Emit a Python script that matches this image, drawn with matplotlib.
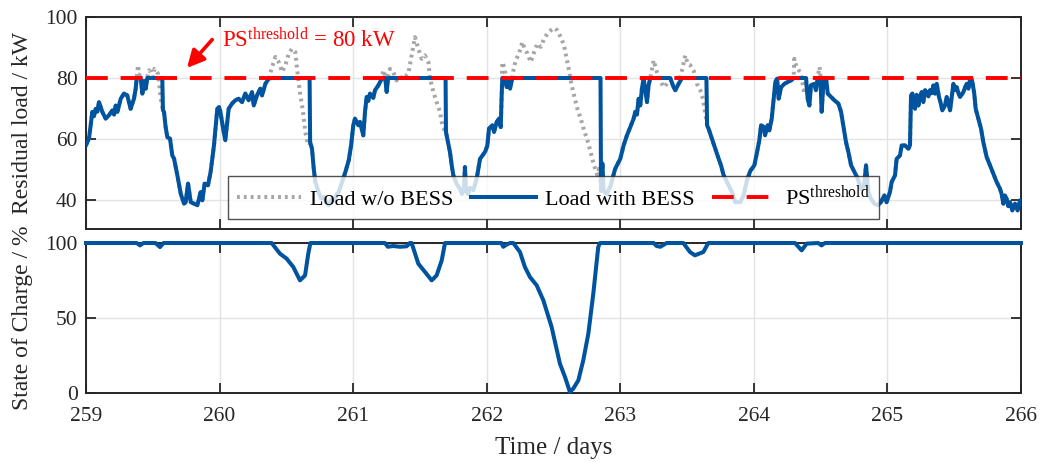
import numpy as np
import matplotlib
matplotlib.use("Agg")
import matplotlib.pyplot as plt
from matplotlib.lines import Line2D

plt.rcParams["font.family"] = ["Liberation Serif", "DejaVu Serif"]
plt.rcParams["mathtext.fontset"] = "custom"
plt.rcParams["mathtext.rm"] = "Liberation Serif"
plt.rcParams["mathtext.it"] = "Liberation Serif:italic"

# peak shaving threshold in kW
ps_threshold = 80

# residual load per day: time / days, load without BESS, load with BESS (kW)
t_259 = [259.000, 259.022, 259.035, 259.047, 259.060, 259.072, 259.085, 259.097, 259.110, 259.122,
         259.147, 259.172, 259.197, 259.210, 259.222, 259.235, 259.260, 259.284, 259.309, 259.334,
         259.359, 259.372, 259.379, 259.389, 259.399, 259.409, 259.422, 259.435, 259.447, 259.459,
         259.472, 259.484, 259.502, 259.512, 259.522, 259.539, 259.554, 259.564, 259.571, 259.576,
         259.584, 259.596, 259.609, 259.629, 259.646, 259.659, 259.684, 259.709, 259.734, 259.746,
         259.764, 259.784, 259.809, 259.834, 259.858, 259.871, 259.888, 259.913, 259.933, 259.958,
         259.983, 259.996]
load_259 = [58.0, 60.1, 64.5, 68.9, 67.5, 69.9, 69.0, 72.1, 70.5, 68.9,
            66.7, 67.8, 69.4, 68.0, 71.0, 68.9, 73.2, 74.9, 74.3, 69.9,
            73.2, 76.5, 79.8, 84.2, 81.0, 81.4, 74.9, 79.0, 76.5, 80.3,
            82.5, 82.0, 80.3, 83.0, 82.5, 81.4, 75.4, 72.1, 70.5, 69.5,
            68.9, 64.0, 60.6, 60.1, 54.6, 53.6, 48.1, 42.1, 38.8, 39.3,
            45.4, 39.3, 38.8, 38.3, 42.6, 39.9, 45.4, 44.8, 49.2, 57.9,
            69.9, 70.5]
bess_259 = [58.0, 60.1, 64.5, 68.9, 67.5, 69.9, 69.0, 72.1, 70.5, 68.9,
            66.7, 67.8, 69.4, 68.0, 71.0, 68.9, 73.2, 74.9, 74.3, 69.9,
            73.2, 76.5, 79.8, 80.0, 80.0, 80.0, 74.9, 79.0, 76.5, 80.0,
            80.0, 80.0, 80.0, 80.0, 80.0, 80.0, 80.0, 80.0, 80.0, 69.5,
            68.9, 64.0, 60.6, 60.1, 54.6, 53.6, 48.1, 42.1, 38.8, 39.3,
            45.4, 39.3, 38.8, 38.3, 42.6, 39.9, 45.4, 44.8, 49.2, 57.9,
            69.9, 70.5]

t_260 = [260.006, 260.031, 260.043, 260.068, 260.093, 260.118, 260.143, 260.168, 260.193, 260.218,
         260.243, 260.256, 260.280, 260.305, 260.318, 260.343, 260.368, 260.393, 260.418, 260.443,
         260.468, 260.493, 260.518, 260.543, 260.567, 260.580, 260.592, 260.605, 260.625, 260.642,
         260.660, 260.674, 260.678, 260.692, 260.705, 260.717, 260.742, 260.760, 260.780, 260.800,
         260.817, 260.835, 260.854, 260.872, 260.892, 260.917, 260.942, 260.967, 260.985]
load_260 = [68.9, 62.3, 59.6, 69.9, 71.6, 72.7, 73.2, 72.1, 74.9, 72.7,
            75.4, 71.0, 74.3, 76.5, 74.3, 78.1, 79.8, 83.6, 86.9, 85.2,
            82.0, 84.2, 88.0, 89.6, 88.5, 83.1, 78.7, 74.3, 68.9, 62.3,
            58.5, 58.0, 59.0, 56.8, 50.3, 45.9, 42.6, 40.5, 41.0, 39.0,
            38.3, 40.0, 39.9, 41.5, 42.6, 45.9, 49.2, 53.0, 58.0]
bess_260 = [68.9, 62.3, 59.6, 69.9, 71.6, 72.7, 73.2, 72.1, 74.9, 72.7,
            75.4, 71.0, 74.3, 76.5, 74.3, 78.1, 79.8, 80.0, 80.0, 80.0,
            80.0, 80.0, 80.0, 80.0, 80.0, 80.0, 80.0, 80.0, 80.0, 80.0,
            80.0, 80.0, 59.0, 56.8, 50.3, 45.9, 42.6, 40.5, 41.0, 39.0,
            38.3, 40.0, 39.9, 41.5, 42.6, 45.9, 49.2, 53.0, 58.0]

t_261 = [261.001, 261.014, 261.039, 261.051, 261.076, 261.089, 261.101, 261.114, 261.126, 261.151,
         261.164, 261.189, 261.214, 261.226, 261.240, 261.251, 261.262, 261.276, 261.300, 261.326,
         261.350, 261.376, 261.413, 261.438, 261.463, 261.488, 261.513, 261.538, 261.563, 261.576,
         261.601, 261.625, 261.650, 261.670, 261.692, 261.695, 261.705, 261.725, 261.738, 261.750,
         261.775, 261.800, 261.815, 261.830, 261.837, 261.845, 261.860, 261.875, 261.900, 261.925,
         261.950, 261.975, 261.990]
load_261 = [64.5, 66.7, 64.5, 65.6, 61.2, 68.9, 73.8, 72.5, 74.9, 73.5,
            76.0, 77.6, 79.8, 82.5, 81.0, 75.4, 80.5, 83.0, 82.0, 79.2,
            80.5, 79.8, 81.4, 87.4, 93.4, 89.6, 86.3, 87.4, 85.2, 79.8,
            75.4, 72.1, 68.9, 63.9, 62.5, 62.3, 60.1, 55.7, 51.4, 48.1,
            45.3, 43.6, 42.0, 44.0, 50.8, 43.0, 42.0, 44.0, 43.2, 47.0,
            53.5, 55.0, 56.0]
bess_261 = [64.5, 66.7, 64.5, 65.6, 61.2, 68.9, 73.8, 72.5, 74.9, 73.5,
            76.0, 77.6, 79.8, 80.0, 80.0, 75.4, 80.0, 80.0, 80.0, 80.0,
            80.0, 80.0, 80.0, 80.0, 80.0, 80.0, 80.0, 80.0, 80.0, 80.0,
            80.0, 80.0, 80.0, 80.0, 80.0, 62.3, 60.1, 55.7, 51.4, 48.1,
            45.3, 43.6, 42.0, 44.0, 50.8, 43.0, 42.0, 44.0, 43.2, 47.0,
            53.5, 55.0, 56.0]

t_262 = [262.005, 262.017, 262.042, 262.055, 262.075, 262.092, 262.105, 262.112, 262.117, 262.135,
         262.150, 262.160, 262.175, 262.192, 262.217, 262.242, 262.267, 262.285, 262.305, 262.330,
         262.355, 262.380, 262.404, 262.430, 262.454, 262.479, 262.504, 262.529, 262.554, 262.579,
         262.599, 262.616, 262.634, 262.654, 262.679, 262.704, 262.729, 262.754, 262.778, 262.803,
         262.829, 262.841, 262.852, 262.856, 262.866, 262.875, 262.900, 262.930, 262.960, 262.975]
load_262 = [57.9, 63.4, 64.5, 62.3, 65.6, 66.7, 63.9, 74.3, 85.2, 83.0,
            77.0, 79.0, 76.5, 80.9, 85.8, 88.0, 91.8, 89.6, 88.0, 85.2,
            88.5, 91.3, 90.2, 92.9, 94.5, 95.6, 96.4, 95.6, 93.4, 90.7,
            86.3, 82.5, 78.1, 74.3, 69.9, 66.7, 62.8, 59.6, 55.7, 51.4,
            48.1, 50.3, 45.0, 43.0, 52.0, 43.0, 42.0, 45.0, 50.0, 51.4]
bess_262 = [57.9, 63.4, 64.5, 62.3, 65.6, 66.7, 63.9, 74.3, 80.0, 80.0,
            77.0, 79.0, 76.5, 80.0, 80.0, 80.0, 80.0, 80.0, 80.0, 80.0,
            80.0, 80.0, 80.0, 80.0, 80.0, 80.0, 80.0, 80.0, 80.0, 80.0,
            80.0, 80.0, 80.0, 80.0, 80.0, 80.0, 80.0, 80.0, 80.0, 80.0,
            80.0, 80.0, 80.0, 43.0, 52.0, 43.0, 42.0, 45.0, 50.0, 51.4]

t_263 = [263.000, 263.025, 263.050, 263.075, 263.100, 263.112, 263.125, 263.137, 263.150, 263.162,
         263.175, 263.200, 263.212, 263.225, 263.250, 263.274, 263.299, 263.324, 263.349, 263.374,
         263.399, 263.412, 263.437, 263.462, 263.487, 263.504, 263.524, 263.549, 263.574, 263.599,
         263.619, 263.631, 263.645, 263.650, 263.661, 263.686, 263.711, 263.736, 263.754, 263.774,
         263.799, 263.836, 263.861, 263.898, 263.923, 263.948, 263.973]
load_263 = [53.5, 57.9, 61.2, 63.9, 66.7, 68.9, 68.0, 73.2, 71.0, 76.5,
            79.8, 72.1, 77.6, 80.0, 85.8, 82.0, 79.2, 77.0, 78.1, 79.8,
            77.0, 76.0, 78.1, 82.5, 87.4, 84.7, 84.2, 82.5, 78.1, 76.0,
            73.2, 69.9, 66.0, 64.5, 63.4, 60.1, 56.8, 53.6, 51.4, 48.1,
            45.9, 42.6, 39.3, 39.3, 41.5, 46.4, 49.5]
bess_263 = [53.5, 57.9, 61.2, 63.9, 66.7, 68.9, 68.0, 73.2, 71.0, 76.5,
            79.8, 72.1, 77.6, 80.0, 80.0, 80.0, 80.0, 80.0, 80.0, 80.0,
            77.0, 76.0, 78.1, 80.0, 80.0, 80.0, 80.0, 80.0, 80.0, 80.0,
            80.0, 80.0, 80.0, 64.5, 63.4, 60.1, 56.8, 53.6, 51.4, 48.1,
            45.9, 42.6, 39.3, 39.3, 41.5, 46.4, 49.5]

t_264 = [264.004, 264.024, 264.041, 264.054, 264.074, 264.084, 264.104, 264.116, 264.134, 264.149,
         264.161, 264.174, 264.186, 264.204, 264.229, 264.254, 264.279, 264.298, 264.303, 264.316,
         264.328, 264.353, 264.366, 264.378, 264.391, 264.403, 264.416, 264.428, 264.453, 264.465,
         264.478, 264.491, 264.498, 264.508, 264.523, 264.541, 264.553, 264.578, 264.603, 264.633,
         264.653, 264.678, 264.690, 264.708, 264.728, 264.753, 264.778, 264.803, 264.825, 264.840,
         264.857, 264.877, 264.902, 264.927, 264.952, 264.977]
load_264 = [51.4, 55.7, 59.6, 64.5, 64.0, 61.2, 64.5, 62.8, 66.7, 73.2,
            78.7, 79.8, 73.2, 77.0, 78.1, 78.7, 79.2, 80.0, 86.3, 84.2,
            83.1, 81.4, 78.1, 74.9, 79.0, 73.2, 71.0, 77.6, 78.1, 76.0,
            80.0, 83.6, 82.0, 68.9, 80.0, 80.0, 74.9, 73.8, 72.7, 71.6,
            68.9, 62.3, 59.0, 55.7, 51.4, 49.2, 47.0, 43.7, 44.5, 51.4,
            42.6, 40.4, 38.8, 38.3, 39.3, 41.5]
bess_264 = [51.4, 55.7, 59.6, 64.5, 64.0, 61.2, 64.5, 62.8, 66.7, 73.2,
            78.7, 79.8, 73.2, 77.0, 78.1, 78.7, 79.2, 80.0, 80.0, 80.0,
            80.0, 80.0, 80.0, 80.0, 80.0, 73.2, 71.0, 77.6, 78.1, 76.0,
            80.0, 80.0, 80.0, 68.9, 80.0, 80.0, 74.9, 73.8, 72.7, 71.6,
            68.9, 62.3, 59.0, 55.7, 51.4, 49.2, 47.0, 43.7, 44.5, 51.4,
            42.6, 40.4, 38.8, 38.3, 39.3, 41.5]

# no peak above the threshold on the last day, both curves are identical
t_265 = [264.994, 265.019, 265.032, 265.057, 265.069, 265.094, 265.107, 265.132, 265.157, 265.169,
         265.177, 265.187, 265.197, 265.207, 265.219, 265.232, 265.245, 265.257, 265.269, 265.282,
         265.294, 265.307, 265.319, 265.332, 265.344, 265.357, 265.369, 265.386, 265.398, 265.411,
         265.431, 265.444, 265.456, 265.469, 265.494, 265.507, 265.519, 265.532, 265.544, 265.569,
         265.582, 265.594, 265.607, 265.619, 265.628, 265.636, 265.650, 265.661, 265.681, 265.701,
         265.718, 265.743, 265.768, 265.793, 265.818, 265.843, 265.855, 265.868, 265.880, 265.893,
         265.905, 265.918, 265.935, 265.955, 265.975, 265.993, 266.000]
load_265 = [39.3, 42.6, 45.9, 48.1, 53.5, 54.6, 57.9, 57.9, 56.8, 58.0,
            74.3, 74.9, 71.0, 69.9, 74.5, 71.0, 74.0, 75.4, 72.1, 76.0,
            75.4, 74.0, 76.0, 75.0, 77.6, 74.9, 78.1, 73.8, 72.0, 69.4,
            71.0, 73.8, 72.0, 69.4, 78.1, 76.0, 77.0, 75.0, 73.8, 75.4,
            77.0, 78.1, 76.5, 79.8, 80.0, 78.7, 75.0, 69.9, 66.7, 63.4,
            59.0, 54.1, 51.4, 48.6, 45.9, 43.7, 42.0, 38.8, 41.5, 40.4,
            38.0, 39.3, 36.6, 38.8, 36.6, 39.9, 40.0]
bess_265 = list(load_265)

# battery state of charge in %
soc_t = [259.000, 259.380, 259.404, 259.430, 259.520, 259.554, 259.580, 260.390, 260.452, 260.502,
         260.552, 260.602, 260.640, 260.664, 260.680, 261.238, 261.260, 261.300, 261.350, 261.400,
         261.425, 261.438, 261.488, 261.538, 261.588, 261.625, 261.663, 261.688, 262.110, 262.124,
         262.150, 262.175, 262.199, 262.249, 262.286, 262.324, 262.374, 262.424, 262.486, 262.548,
         262.586, 262.623, 262.648, 262.686, 262.723, 262.761, 262.798, 262.835, 262.848, 263.250,
         263.272, 263.300, 263.347, 263.472, 263.522, 263.559, 263.622, 263.659, 264.308, 264.358,
         264.395, 264.482, 264.507, 264.532, 266.000]
soc_pct = [100, 100, 98.4, 100, 100, 97.3, 100, 100, 92.9, 89.6,
           84.0, 75.1, 78.4, 92.9, 100, 100, 97.5, 98.0, 97.5, 97.8,
           100, 100, 86.2, 80.7, 75.1, 78.4, 88.4, 100, 100, 97.5,
           99.0, 100, 100, 94.0, 84.0, 77.3, 71.8, 61.8, 44.0, 19.6,
           10.7, 0.7, 2.9, 8.4, 21.8, 39.6, 66.2, 97.3, 100, 100,
           98.0, 97.5, 100, 100, 94.0, 91.8, 94.0, 100, 100, 95.1,
           99.6, 100, 98.4, 100, 100]

t_days = np.concatenate([t_259, t_260, t_261, t_262, t_263, t_264, t_265])
load_wo_bess = np.concatenate([load_259, load_260, load_261, load_262, load_263, load_264, load_265])
load_with_bess = np.concatenate([bess_259, bess_260, bess_261, bess_262, bess_263, bess_264, bess_265])

blue = "#00549F"
grey = "#a6a6a6"
dark = "#262626"
tick_fs = 15.5
label_fs = 17
lw_line = 2.9
dotted = (0, (0.7, 1.0))

fig = plt.figure(figsize=(10.4, 4.62), dpi=100)
ax1 = fig.add_axes([0.0827, 0.5043, 0.899, 0.4589])
ax2 = fig.add_axes([0.0827, 0.1494, 0.899, 0.3246])

# top: residual load
ax1.plot(t_days, load_wo_bess, color=grey, lw=lw_line, ls=dotted, zorder=2)
ax1.plot(t_days, load_with_bess, color=blue, lw=lw_line, zorder=3)
ax1.axhline(ps_threshold, color="red", lw=2.8, dashes=(5.6, 3.3), zorder=4)

ax1.set_xlim(259, 266)
ax1.set_ylim(30.5, 100)
ax1.set_yticks([40, 60, 80, 100])
ax1.set_xticks(np.arange(259, 267))
ax1.tick_params(labelbottom=False)
ax1.set_ylabel("Residual load / kW", fontsize=label_fs, color=dark, labelpad=9)

ax1.annotate("", xy=(259.756, 83.3), xytext=(259.945, 92.6),
             arrowprops=dict(arrowstyle="-|>", color="red", lw=2.6, mutation_scale=26,
                             shrinkA=0, shrinkB=0))
ax1.text(260.02, 90.2, "PS$^{\\mathrm{threshold}}$ = 80 kW", color="red",
         fontsize=16.5, ha="left", va="baseline")

handles = [Line2D([], [], color=grey, lw=lw_line, ls=dotted),
           Line2D([], [], color=blue, lw=lw_line),
           Line2D([], [], color="red", lw=2.8, dashes=(5.6, 3.3))]
labels = ["Load w/o BESS", "Load with BESS", "PS$^{\\mathrm{threshold}}$"]
leg = ax1.legend(handles, labels, loc="lower center", bbox_to_anchor=(0.5, 0.047), ncol=3,
                 fontsize=16, frameon=True, fancybox=False, framealpha=0.8,
                 edgecolor=dark, handlelength=2.9, handletextpad=0.4, columnspacing=0.8,
                 borderpad=0.4, borderaxespad=0)
leg.get_frame().set_linewidth(1.0)
leg.set_zorder(6)

# bottom: state of charge
ax2.plot(soc_t, soc_pct, color=blue, lw=lw_line, clip_on=False, zorder=3)
ax2.set_xlim(259, 266)
ax2.set_ylim(0, 100)
ax2.set_yticks([0, 50, 100])
ax2.set_xticks(np.arange(259, 267))
ax2.set_xlabel("Time / days", fontsize=label_fs + 1, color=dark, labelpad=8)
ax2.set_ylabel("State of Charge / %", fontsize=label_fs, color=dark, labelpad=9)

for ax in (ax1, ax2):
    ax.grid(True, color="#e3e3e3", lw=1.0)
    ax.set_axisbelow(True)
    ax.tick_params(direction="in", length=7, width=1.3, top=True, right=True,
                   labelsize=tick_fs, colors=dark)
    ax.tick_params(axis="y", pad=6)
    ax.tick_params(axis="x", pad=10)
    for sp in ax.spines.values():
        sp.set_linewidth(1.4)
        sp.set_color(dark)

fig.align_ylabels([ax1, ax2])
fig.savefig("out.png", dpi=100)
